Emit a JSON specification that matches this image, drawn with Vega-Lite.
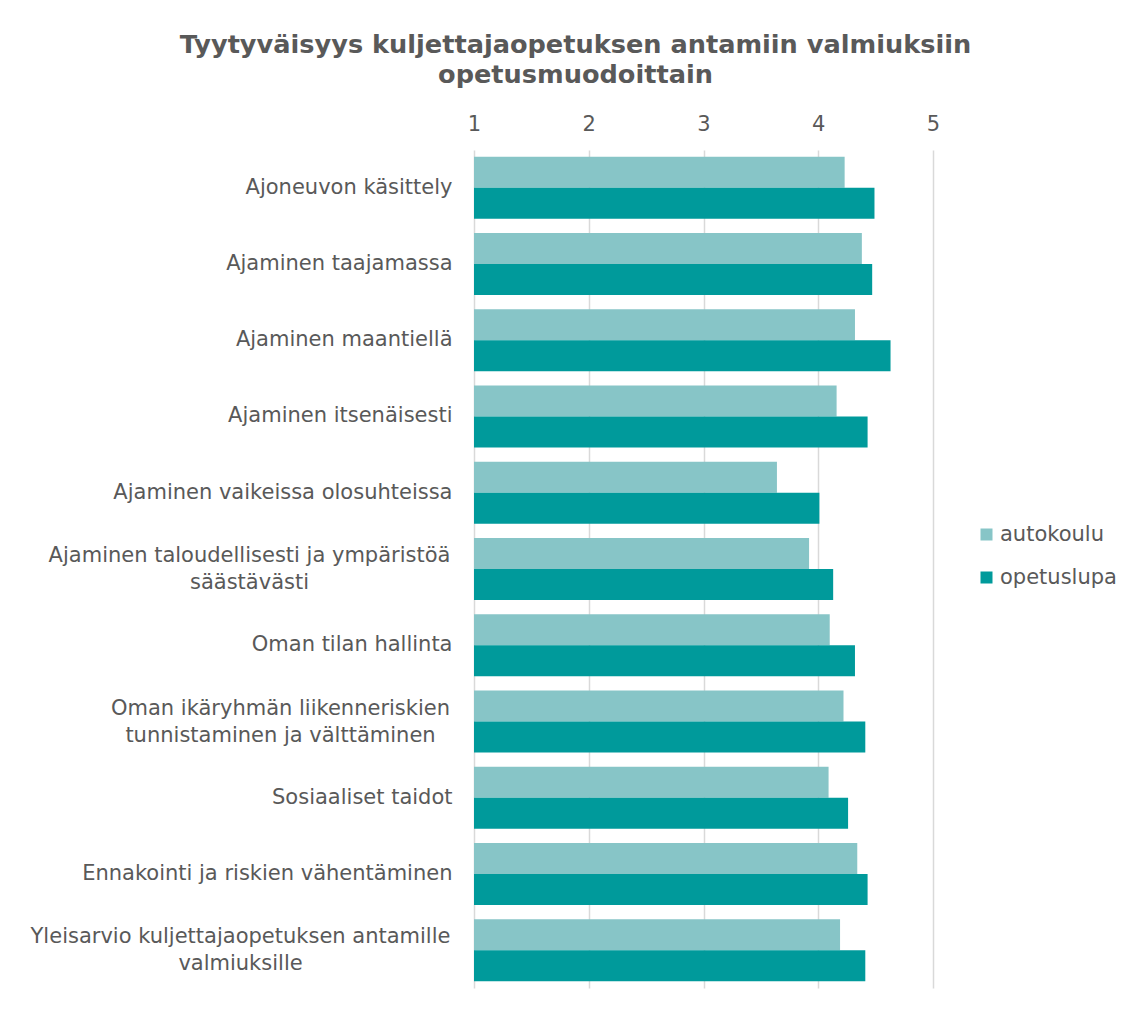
{
  "$schema": "https://vega.github.io/schema/vega-lite/v6.json",
  "autosize": {"type": "none"},
  "width": 459,
  "height": 838,
  "padding": {"left": 474, "top": 150, "right": 212, "bottom": 24},
  "background": "white",
  "title": {
    "text": ["Tyytyväisyys kuljettajaopetuksen antamiin valmiuksiin", "opetusmuodoittain"],
    "font": "DejaVu Sans",
    "fontSize": 25.6,
    "fontWeight": "bold",
    "color": "#595959",
    "lineHeight": 30,
    "anchor": "middle",
    "frame": "group",
    "dx": -128,
    "offset": 24
  },
  "data": {
    "values": [
      {"category": "Ajoneuvon käsittely", "series": "autokoulu", "value": 4.23},
      {"category": "Ajoneuvon käsittely", "series": "opetuslupa", "value": 4.49},
      {"category": "Ajaminen taajamassa", "series": "autokoulu", "value": 4.38},
      {"category": "Ajaminen taajamassa", "series": "opetuslupa", "value": 4.47},
      {"category": "Ajaminen maantiellä", "series": "autokoulu", "value": 4.32},
      {"category": "Ajaminen maantiellä", "series": "opetuslupa", "value": 4.63},
      {"category": "Ajaminen itsenäisesti", "series": "autokoulu", "value": 4.16},
      {"category": "Ajaminen itsenäisesti", "series": "opetuslupa", "value": 4.43},
      {"category": "Ajaminen vaikeissa olosuhteissa", "series": "autokoulu", "value": 3.64},
      {"category": "Ajaminen vaikeissa olosuhteissa", "series": "opetuslupa", "value": 4.01},
      {"category": "Ajaminen taloudellisesti ja ympäristöä\nsäästävästi", "series": "autokoulu", "value": 3.92},
      {"category": "Ajaminen taloudellisesti ja ympäristöä\nsäästävästi", "series": "opetuslupa", "value": 4.13},
      {"category": "Oman tilan hallinta", "series": "autokoulu", "value": 4.10},
      {"category": "Oman tilan hallinta", "series": "opetuslupa", "value": 4.32},
      {"category": "Oman ikäryhmän liikenneriskien\ntunnistaminen ja välttäminen", "series": "autokoulu", "value": 4.22},
      {"category": "Oman ikäryhmän liikenneriskien\ntunnistaminen ja välttäminen", "series": "opetuslupa", "value": 4.41},
      {"category": "Sosiaaliset taidot", "series": "autokoulu", "value": 4.09},
      {"category": "Sosiaaliset taidot", "series": "opetuslupa", "value": 4.26},
      {"category": "Ennakointi ja riskien vähentäminen", "series": "autokoulu", "value": 4.34},
      {"category": "Ennakointi ja riskien vähentäminen", "series": "opetuslupa", "value": 4.43},
      {"category": "Yleisarvio kuljettajaopetuksen antamille\nvalmiuksille", "series": "autokoulu", "value": 4.19},
      {"category": "Yleisarvio kuljettajaopetuksen antamille\nvalmiuksille", "series": "opetuslupa", "value": 4.41}
    ]
  },
  "mark": {"type": "bar"},
  "encoding": {
    "y": {
      "field": "category",
      "type": "nominal",
      "sort": null,
      "scale": {"paddingInner": 0.19, "paddingOuter": 0.09},
      "axis": {
        "title": null,
        "domain": false,
        "ticks": false,
        "labelFont": "DejaVu Sans",
        "labelFontSize": 21,
        "labelColor": "#595959",
        "labelLineHeight": 27,
        "labelLimit": 500,
        "labelExpr": "split(datum.value, '\\n')",
        "labelAlign": {"condition": {"test": "indexof(datum.value, '\\n') >= 0", "value": "center"}, "value": "right"},
        "labelOffset": {"condition": {"test": "indexof(datum.value, '\\n') >= 0", "value": -13}, "value": 0},
        "labelPadding": {"condition": [
          {"test": "indexof(datum.value, 'taloudellisesti') >= 0", "value": 225},
          {"test": "indexof(datum.value, 'ikäryhmän') >= 0", "value": 194},
          {"test": "indexof(datum.value, 'Yleisarvio') >= 0", "value": 234}
        ], "value": 22}
      }
    },
    "yOffset": {
      "field": "series",
      "type": "nominal",
      "sort": ["autokoulu", "opetuslupa"],
      "scale": {"paddingInner": 0, "paddingOuter": 0}
    },
    "x": {
      "field": "value",
      "type": "quantitative",
      "scale": {"domain": [1, 5], "nice": false, "zero": false},
      "axis": {
        "orient": "top",
        "title": null,
        "values": [1, 2, 3, 4, 5],
        "format": "d",
        "domain": false,
        "ticks": false,
        "grid": true,
        "gridColor": "#D9D9D9",
        "gridWidth": 1.5,
        "labelFlush": false,
        "labelFont": "DejaVu Sans",
        "labelFontSize": 21,
        "labelColor": "#595959",
        "labelPadding": 16
      }
    },
    "x2": {"datum": 1},
    "color": {
      "field": "series",
      "type": "nominal",
      "scale": {"domain": ["autokoulu", "opetuslupa"], "range": ["#87C5C7", "#009A9B"]},
      "legend": {
        "title": null,
        "orient": "none",
        "legendX": 502,
        "legendY": 374,
        "symbolType": "square",
        "symbolSize": 144,
        "symbolStrokeWidth": 0,
        "labelFont": "DejaVu Sans",
        "labelFontSize": 21,
        "labelColor": "#595959",
        "labelOffset": 3,
        "rowPadding": 21
      }
    }
  },
  "config": {
    "view": {"stroke": null}
  }
}
